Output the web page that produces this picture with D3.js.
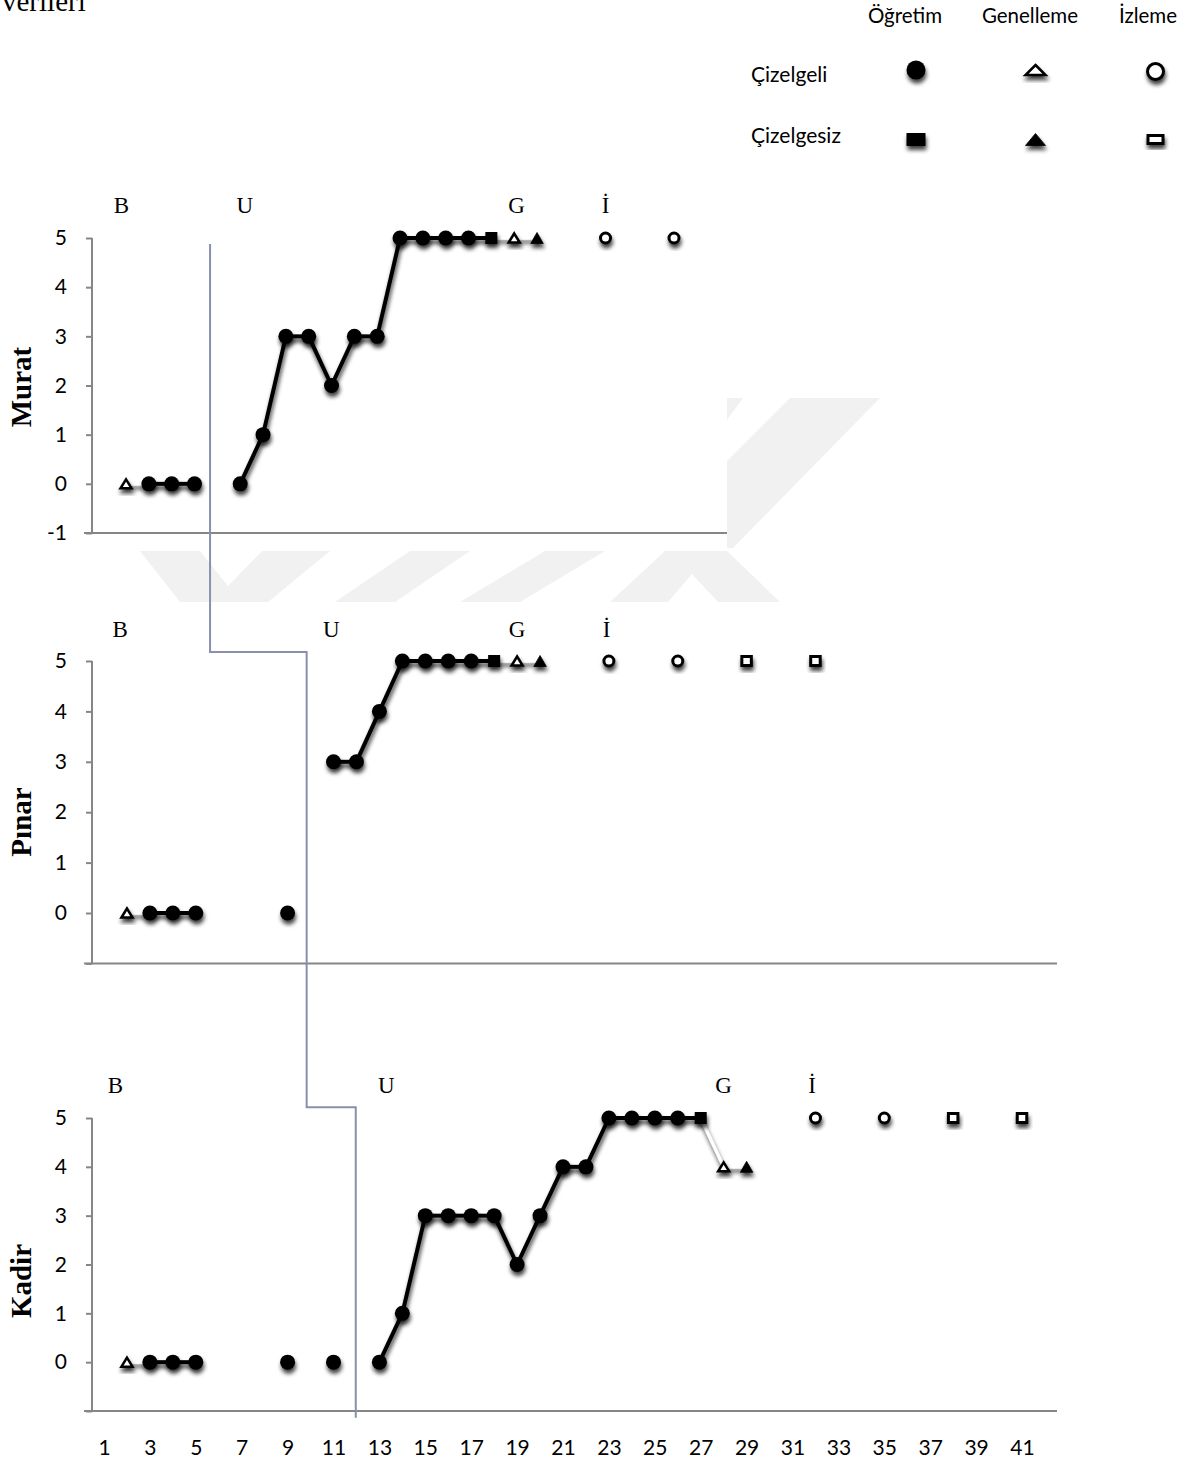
<!DOCTYPE html>
<html><head><meta charset="utf-8">
<script src="https://cdn.jsdelivr.net/npm/d3@7"></script>
<style>body{margin:0;background:#fff} svg{display:block}</style>
</head><body>
<svg id="c" width="1199" height="1460"></svg>
<script>
// ---------------- DATA ----------------
const sessionTicks = [1,3,5,7,9,11,13,15,17,19,21,23,25,27,29,31,33,35,37,39,41];
const scoreTicksMurat = [-1,0,1,2,3,4,5];
const scoreTicksOther = [0,1,2,3,4,5];
const phaseNames = ["B","U","G","İ"];
const studentNames = ["Murat","Pınar","Kadir"];
const legendCols = ["Öğretim","Genelleme","İzleme"];
const legendRows = ["Çizelgeli","Çizelgesiz"];
const legendTypes = [["oC","gC","iC"],["oS","gS","iS"]];

// oC öğretim çizelgeli, oS öğretim çizelgesiz, gC genelleme çizelgeli,
// gS genelleme çizelgesiz, iC izleme çizelgeli, iS izleme çizelgesiz
const muratSessions = [2,3,4,5,7,8,9,10,11,12,13,14,15,16,17,18,19,20,23,26];
const muratScores   = [0,0,0,0,0,1,3,3,2,3,3,5,5,5,5,5,5,5,5,5];
const muratTypes    = ["gC","oC","oC","oC","oC","oC","oC","oC","oC","oC","oC","oC","oC","oC","oC","oS","gC","gS","iC","iC"];

const pinarSessions = [2,3,4,5,9,11,12,13,14,15,16,17,18,19,20,23,26,29,32];
const pinarScores   = [0,0,0,0,0,3,3,4,5,5,5,5,5,5,5,5,5,5,5];
const pinarTypes    = ["gC","oC","oC","oC","oC","oC","oC","oC","oC","oC","oC","oC","oS","gC","gS","iC","iC","iS","iS"];

const kadirSessions = [2,3,4,5,9,11,13,14,15,16,17,18,19,20,21,22,23,24,25,26,27,28,29,32,35,38,41];
const kadirScores   = [0,0,0,0,0,0,0,1,3,3,3,3,2,3,4,4,5,5,5,5,5,4,4,5,5,5,5];
const kadirTypes    = ["gC","oC","oC","oC","oC","oC","oC","oC","oC","oC","oC","oC","oC","oC","oC","oC","oC","oC","oC","oC","oS","gC","gS","iC","iC","iS","iS"];

// phase label positions (session units)
const muratPhaseAt = [1.8, 7.2, 19.1, 23.0];
const pinarPhaseAt = [1.7, 10.9, 19.0, 22.9];
const kadirPhaseAt = [1.5, 13.3, 28.0, 31.85];

// phase change line positions (session units) for Murat/Pınar/Kadir
const phaseChangeAt = [5.68, 9.83, 11.97];

// ---------------- LAYOUT ----------------
const svg = d3.select("#c");
const AX = "#868686";
const PH = "#8890ae";
const defs = svg.append("defs");
const f = defs.append("filter").attr("id","sh").attr("x","-60%").attr("y","-60%").attr("width","220%").attr("height","240%");
f.append("feDropShadow").attr("dx",1).attr("dy",4).attr("stdDeviation",2.2).attr("flood-color","#000").attr("flood-opacity",0.75);

// watermark (very light grey)
const wm = svg.append("g").attr("fill","#f1f1f1");
[
 [[140,551],[200,551],[228,586],[262,551],[330,551],[268,602],[180,602]],
 [[410,551],[470,551],[395,602],[335,602]],
 [[545,551],[605,551],[520,602],[460,602]],
 [[665,551],[727,551],[780,602],[718,602],[692,574],[668,602],[610,602]],
 [[790,398],[880,398],[733,548],[727,548],[727,461]],
 [[727,398],[743,398],[727,420]]
].forEach(p => wm.append("polygon").attr("points", p.map(d=>d.join(",")).join(" ")));

// partial text at top-left
svg.append("text").attr("x",2).attr("y",11).attr("font-family","Liberation Serif").attr("font-size",29).text("verileri");

const panels = [
 {name:studentNames[0], s:muratSessions, v:muratScores, t:muratTypes, ph:muratPhaseAt,
  xr:[103.2,1016.5], yr:[533,238], axEnd:727, ticks:scoreTicksMurat, titleY:387, phY:213},
 {name:studentNames[1], s:pinarSessions, v:pinarScores, t:pinarTypes, ph:pinarPhaseAt,
  xr:[104,1022], yr:[963.4,661], axEnd:1057, ticks:scoreTicksOther, titleY:822, phY:637},
 {name:studentNames[2], s:kadirSessions, v:kadirScores, t:kadirTypes, ph:kadirPhaseAt,
  xr:[104,1022], yr:[1411,1118], axEnd:1057, ticks:scoreTicksOther, titleY:1281, phY:1093, xlab:true}
];
panels.forEach(p => {
  p.x = d3.scaleLinear().domain([1,41]).range(p.xr);
  p.y = d3.scaleLinear().domain([-1,5]).range(p.yr);
});

function drawMarker(g, type, cx, cy, big) {
  const sym = g.append("g").attr("filter","url(#sh)");
  if (type === "oC") {
    sym.append("circle").attr("cx",cx).attr("cy",cy).attr("r", big?9.5:7.5).attr("fill","#000");
  } else if (type === "oS") {
    const w = big?19:12, h = big?13:12;
    sym.append("rect").attr("x",cx-w/2).attr("y",cy-h/2).attr("width",w).attr("height",h).attr("fill","#000");
  } else if (type === "gC" || type === "gS") {
    const w = big?20:(type==="gC"?11:12.5), h = big?(type==="gC"?10:12):(type==="gC"?9:11);
    const pts = [[cx,cy-h/2],[cx+w/2,cy+h/2],[cx-w/2,cy+h/2]];
    sym.append("polygon").attr("points",pts.map(d=>d.join(",")).join(" "))
      .attr("fill", type==="gC"?"#fff":"#000")
      .attr("stroke","#000").attr("stroke-width", type==="gC"?2.5:0.8).attr("stroke-linejoin","miter");
  } else if (type === "iC") {
    sym.append("circle").attr("cx",cx).attr("cy",cy).attr("r", big?8:5).attr("fill","#fff").attr("stroke","#000").attr("stroke-width",3);
  } else if (type === "iS") {
    const w = big?15:9.5, h = big?8:9;
    sym.append("rect").attr("x",cx-w/2).attr("y",cy-h/2).attr("width",w).attr("height",h).attr("fill","#fff").attr("stroke","#000").attr("stroke-width",3);
  }
}

panels.forEach((p, pi) => {
  const g = svg.append("g");
  const x0 = 92;
  const yAxis = d3.axisLeft(p.y).tickValues(scoreTicksMurat).tickSize(6).tickSizeOuter(0).tickPadding(19)
     .tickFormat(d => p.ticks.includes(d) ? d : "");
  const ya = g.append("g").attr("transform",`translate(${x0},0)`).call(yAxis);
  ya.select(".domain").attr("stroke",AX).attr("stroke-width",2).attr("d",`M0,${p.y(5)}V${p.y(-1)}`);
  ya.selectAll(".tick line").attr("stroke",AX).attr("stroke-width",2);
  ya.selectAll(".tick text").attr("font-family","Lato").attr("font-size",21).attr("fill","#000");
  g.append("line").attr("x1",84).attr("x2",p.axEnd).attr("y1",p.y(-1)).attr("y2",p.y(-1))
    .attr("stroke",AX).attr("stroke-width",2);
  if (p.xlab) {
    const xAxis = d3.axisBottom(p.x).tickValues(sessionTicks).tickSize(0).tickPadding(0);
    const xa = g.append("g").attr("transform",`translate(0,${p.y(-1)})`).call(xAxis);
    xa.select(".domain").remove();
    xa.selectAll(".tick text").attr("font-family","Lato").attr("font-size",21).attr("fill","#000")
      .attr("y",44).attr("dy",0);
  }
  g.append("text").attr("transform",`translate(31,${p.titleY}) rotate(-90)`).attr("text-anchor","middle")
    .attr("font-family","Liberation Serif").attr("font-weight","bold").attr("font-size",29).text(p.name);
  p.ph.forEach((s, i) => {
    g.append("text").attr("x",p.x(s)).attr("y",p.phY).attr("text-anchor","middle")
      .attr("font-family","Liberation Serif").attr("font-size",23).text(phaseNames[i]);
  });
  const pts = p.s.map((s,i)=>({s, v:p.v[i], t:p.t[i]}));
  const lg = g.append("g").attr("filter","url(#sh)");
  for (let i=1;i<pts.length;i++){
    const a = pts[i-1], b = pts[i];
    if (b.s - a.s !== 1) continue;
    const teach = a.t[0]==="o" && b.t[0]==="o";
    lg.append("line").attr("x1",p.x(a.s)).attr("y1",p.y(a.v)).attr("x2",p.x(b.s)).attr("y2",p.y(b.v))
      .attr("stroke", teach?"#000":"#fff").attr("stroke-width", teach?4:3);
  }
  pts.forEach(d => drawMarker(g, d.t, p.x(d.s), p.y(d.v), false));
});

// phase change staircase line
{
  const [p1,p2,p3] = panels;
  const xa = p1.x(phaseChangeAt[0]);
  const xb = p2.x(phaseChangeAt[1]);
  const xc = p3.x(phaseChangeAt[2]);
  const ya = p1.y(4.88), yb = p2.y(5.18), yc = p3.y(5.22), yd = p3.y(-1.14);
  svg.append("path").attr("d",`M${xa},${ya}V${yb}H${xb}V${yc}H${xc}V${yd}`)
    .attr("fill","none").attr("stroke",PH).attr("stroke-width",2);
}

// legend
{
  const lg = svg.append("g");
  const colX = [905, 1030, 1148];
  const markX = [916, 1035.5, 1155.5];
  const rowY = [70, 139.5];
  legendCols.forEach((c,i)=> lg.append("text").attr("x",colX[i]).attr("y",23).attr("text-anchor","middle")
     .attr("font-family","Lato").attr("font-size",20.5).text(c));
  legendRows.forEach((r,j)=> lg.append("text").attr("x",751).attr("y",j?143:82).attr("font-family","Lato").attr("font-size",21).text(r));
  legendTypes.forEach((row,j)=> row.forEach((t,i)=> drawMarker(lg, t, markX[i], rowY[j]+(i===2&&j===0?1.5:0), true)));
}
</script>
</body></html>
